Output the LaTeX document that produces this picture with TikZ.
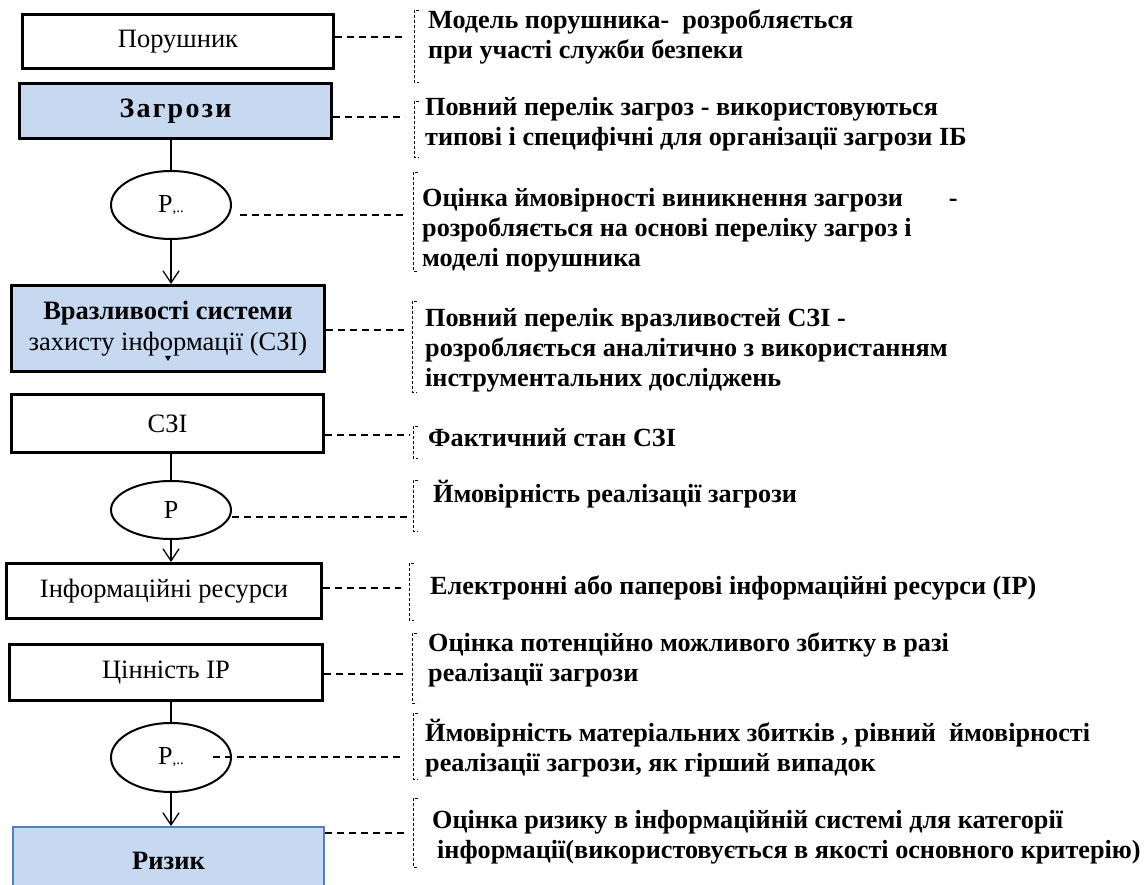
\documentclass[tikz,border=0pt]{standalone}
\usepackage{fontspec}
\setmainfont{Liberation Serif}
\newfontfamily\widebold[LetterSpace=8]{Liberation Serif Bold}
\usetikzlibrary{arrows.meta,shapes.geometric}
\definecolor{boxblue}{HTML}{C6D9F1}
\definecolor{edgeblue}{HTML}{4F81BD}

\begin{document}
\begin{tikzpicture}[x=1pt,y=-1pt,
  stagebox/.style={draw=black, line width=3pt, inner sep=0pt, align=center,
    font=\fontsize{26.5}{31}\selectfont},
  keybox/.style={stagebox, fill=boxblue},
  probnode/.style={draw=black, ellipse, line width=2pt, inner sep=0pt,
    minimum width=120, font=\fontsize{26}{30}\selectfont},
  flow/.style={line width=1.3pt},
  flowarrow/.style={flow, -{Straight Barb[length=12pt,width=16pt,line width=1.3pt]}},
  leader/.style={line width=1.1pt, dash pattern=on 7pt off 5pt},
  bracketline/.style={line width=0.9pt, dash pattern=on 3pt off 2pt},
  note/.style={anchor=west, align=left, inner sep=0pt,
    font=\bfseries\fontsize{26.2}{30}\selectfont}]

\useasboundingbox (0,0) rectangle (1144,885);

% ---- left column: stages of the risk assessment ----
\node[stagebox, minimum width=311, minimum height=54] (por) at (178,41.5) {Порушник};
\node[keybox, minimum width=312, minimum height=55] (zag) at (175.5,111)
  {\widebold\fontsize{28}{31}\selectfont Загрози};
\node[probnode, minimum height=68] (e1) at (171,205) {Р{\fontsize{15}{15}\selectfont,..}};
\node[keybox, minimum width=313, minimum height=86] (vraz) at (168,328.5)
  {\bfseries Вразливості системи\\захисту інформації (СЗІ)};
\node[stagebox, minimum width=312, minimum height=58] (szi) at (167.5,423.5) {СЗІ};
\node[probnode, minimum height=58] (e2) at (171,510) {Р};
\node[stagebox, minimum width=315, minimum height=55] (ir) at (164,591) {Інформаційні ресурси};
\node[stagebox, minimum width=313, minimum height=56] (cin) at (166,672.5) {Цінність ІР};
\node[probnode, minimum height=69] (e3) at (171,757.5) {Р{\fontsize{15}{15}\selectfont,..}};
\node[stagebox, fill=boxblue, draw=edgeblue, line width=2pt,
  minimum width=311, minimum height=68] (ryz) at (168.5,861) {\bfseries Ризик};

% small stray tip under the vulnerability box text
\fill (165,356) -- (171,356) -- (168,361) -- cycle;

% ---- vertical flow ----
\draw[flow] (e1.north) -- (e1.north |- zag.south);
\draw[flowarrow] (e1.south) -- (e1.south |- vraz.north);
\draw[flow] (e2.north) -- (e2.north |- szi.south);
\draw[flowarrow] (e2.south) -- (e2.south |- ir.north);
\draw[flow] (e3.north) -- (e3.north |- cin.south);
\draw[flowarrow] (e3.south) -- (e3.south |- ryz.north);

% ---- leader end points ----
\coordinate (d1) at (402,37);
\coordinate (d2) at (405,117);
\coordinate (d3) at (405,215);
\coordinate (d4) at (404,330);
\coordinate (d5) at (410,435);
\coordinate (d6) at (408,517);
\coordinate (d7) at (401,588);
\coordinate (d8) at (405,674);
\coordinate (d9) at (402,757);
\coordinate (d10) at (405,833);

\draw[leader] (por.east |- d1) -- (d1);
\draw[leader] (zag.east |- d2) -- (d2);
\draw[leader] (240,215) -- (d3);
\draw[leader] (vraz.east |- d4) -- (d4);
\draw[leader] (szi.east |- d5) -- (d5);
\draw[leader] (e2.east |- d6) -- (d6);
\draw[leader] (ir.east |- d7) -- (d7);
\draw[leader] (cin.east |- d8) -- (d8);
\draw[leader] (e3.center |- d9) ++(42,0) -- (d9);
\draw[leader] (ryz.east |- d10) -- (d10);

% ---- dashed brackets ----
\foreach \x/\t/\b in {414/10/82, 414/101/157, 413/172/271, 412/301/392,
    413/426/458, 413/480/531, 409/563/620, 412/633/703, 413/713/779, 413/798/867}
  \draw[bracketline] (\x+5,\t) -- (\x,\t) -- (\x,\b) -- (\x+5,\b);

% ---- explanations ----
\node[note] (n1) at (428,37) {Модель порушника-\ \ розробляється\\при участі служби безпеки};
\node[note] (n2) at (425,124) {Повний перелік загроз - використовуються\\типові і специфічні для організації загрози ІБ};
\node[note] (n3) at (422,230) {Оцінка ймовірності виникнення загрози\hspace*{46pt}-\\розробляється на основі переліку загроз і\\моделі порушника};
\node[note] (n4) at (425,350) {Повний перелік вразливостей СЗІ -\\розробляється аналітично з використанням\\інструментальних досліджень};
\node[note] (n5) at (428,438) {Фактичний стан СЗІ};
\node[note] (n6) at (433,494) {Ймовірність реалізації загрози};
\node[note] (n7) at (430,588) {Електронні або паперові інформаційні ресурси (ІР)};
\node[note] (n8) at (428,660) {Оцінка потенційно можливого збитку в разі\\реалізації загрози};
\node[note] (n9) at (425,748) {Ймовірність матеріальних збитків , рівний\ \ ймовірності\\реалізації загрози, як гірший випадок};
\node[note] (n10) at (432,837) {Оцінка ризику в інформаційній системі для категорії\\\hspace*{5pt}інформації(використовується в якості основного критерію)};

\end{tikzpicture}
\end{document}
